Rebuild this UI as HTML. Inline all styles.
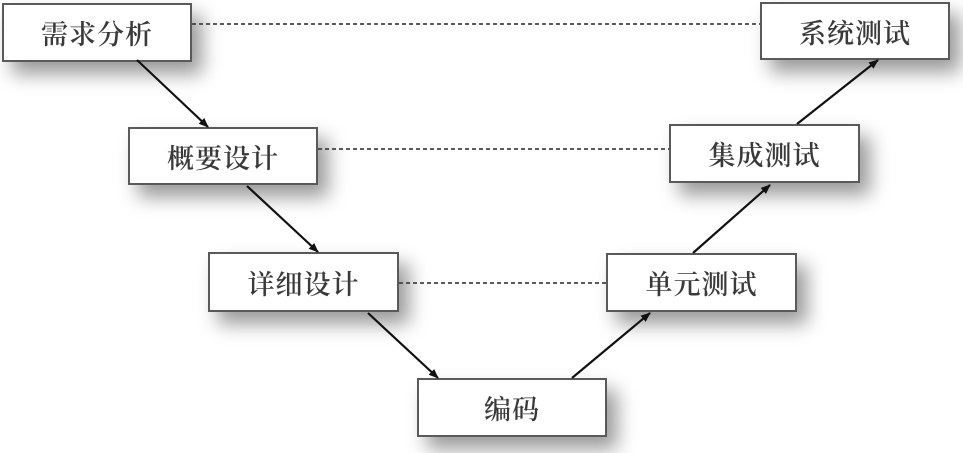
<!DOCTYPE html>
<html><head><meta charset="utf-8"><style>
html,body{margin:0;padding:0;background:#fff;width:963px;height:453px;overflow:hidden;position:relative}
.b{position:absolute;box-sizing:border-box;border:2px solid #5a5a5a;background:#fff;
box-shadow:10px 12px 18px rgba(0,0,0,0.4);
font-family:"Liberation Serif","Noto Serif CJK SC",serif;font-size:27px;font-weight:600;color:#3a3a3a;
display:flex;align-items:center;justify-content:center;letter-spacing:1px}
svg{position:absolute;left:0;top:0;z-index:2}
</style></head><body>
<svg width="963" height="453">
<defs><marker id="a" markerWidth="10" markerHeight="10" refX="9" refY="5" orient="auto" markerUnits="userSpaceOnUse"><path d="M0,1 L10,5 L0,9 z" fill="#111"/></marker></defs>
<g stroke="#444" stroke-width="1.8" stroke-dasharray="4,3">
<line x1="192" y1="24" x2="760" y2="24"/>
<line x1="318" y1="149" x2="669" y2="149"/>
<line x1="399" y1="283" x2="606" y2="283"/>
</g>
<g stroke="#111" stroke-width="2.2" marker-end="url(#a)">
<line x1="137" y1="60" x2="208" y2="127"/>
<line x1="247" y1="186" x2="318" y2="252"/>
<line x1="368" y1="313" x2="438" y2="378"/>
<line x1="572" y1="378" x2="650" y2="313"/>
<line x1="693" y1="253" x2="770" y2="185"/>
<line x1="797" y1="124" x2="878" y2="60"/>
</g>
</svg>
<div class="b" style="left:2px;top:3px;width:190px;height:59px">需求分析</div>
<div class="b" style="left:760px;top:2px;width:190px;height:58px">系统测试</div>
<div class="b" style="left:128px;top:127px;width:190px;height:58px">概要设计</div>
<div class="b" style="left:669px;top:124px;width:191px;height:59px">集成测试</div>
<div class="b" style="left:208px;top:252px;width:191px;height:60px">详细设计</div>
<div class="b" style="left:606px;top:253px;width:191px;height:59px">单元测试</div>
<div class="b" style="left:417px;top:378px;width:190px;height:59px">编码</div>
</body></html>
